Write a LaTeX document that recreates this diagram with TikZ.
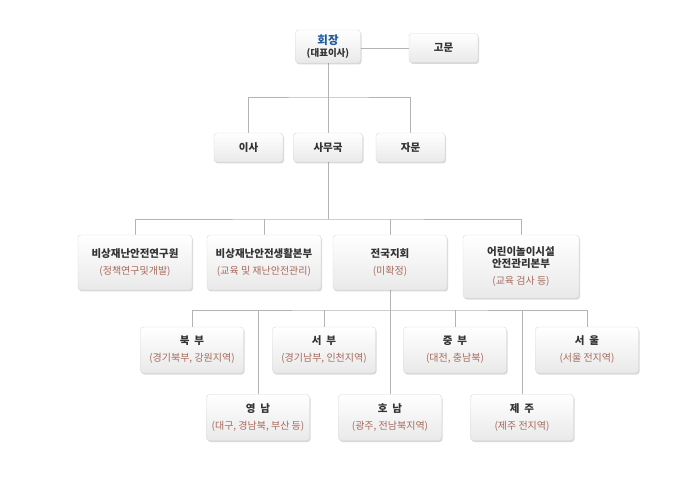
\documentclass[tikz,border=0pt]{standalone}
\usepackage{fontspec}
\setmainfont{Noto Sans CJK KR}
\usetikzlibrary{shadows, backgrounds}
\definecolor{linegray}{HTML}{B4B4B4}
\definecolor{boxline}{HTML}{D8D8D8}
\definecolor{boxbottom}{HTML}{E9E9E9}
\definecolor{titlegray}{HTML}{333333}
\definecolor{subred}{HTML}{A66A5C}
\definecolor{chairblue}{HTML}{1F5C9E}
\tikzstyle{box} = [rectangle, rounded corners=3pt, draw=boxline, top color=white, bottom color=boxbottom, drop shadow={shadow xshift=1pt, shadow yshift=-1.5pt, fill=black, opacity=0.15}, align=center, text=titlegray, font=\bfseries\fontsize{10.5}{12}\selectfont, inner sep=0pt]
\tikzstyle{small} = [box, minimum width=69pt, minimum height=29pt]
\tikzstyle{dept} = [box, minimum width=114pt, minimum height=55pt]
\tikzstyle{branch} = [box, minimum width=103pt, minimum height=46pt]
\tikzstyle{link} = [draw=linegray, line width=0.8pt]
\newcommand{\detail}[1]{\\[5pt]{\color{subred}\mdseries\fontsize{10}{11}\selectfont #1}}

\begin{document}
\begin{tikzpicture}[x=1pt, y=-1pt]
    \useasboundingbox (0,0) rectangle (675,497);
    % top
    \node (hoejang) [box, minimum width=65pt, minimum height=33pt] at (328,46.5) {{\color{chairblue}\fontsize{11.5}{12}\selectfont 회장}\\{\fontsize{9.5}{10}\selectfont (대표이사)}};
    \node (gomun) [small] at (443.5,48) {고문};
    \node (isa) [small] at (248.5,147.5) {이사};
    \node (samu) [small] at (328,147.5) {사무국};
    \node (jamun) [small] at (410.5,147.5) {자문};
    % departments
    \node (yeonguwon) [dept] at (135,262.5) {비상재난안전연구원\detail{(정책연구및개발)}};
    \node (saenghwal) [dept] at (264,262.5) {비상재난안전생활본부\detail{(교육 및 재난안전관리)}};
    \node (jiho) [dept] at (390,262.5) {전국지회\detail{(미확정)}};
    \node (eorini) [dept, minimum width=116pt, minimum height=63pt] at (521,266.5) {어린이놀이시설\\안전관리본부\detail{(교육 검사 등)}};
    % branches
    \node (bukbu) [branch] at (192,350) {북\ \ 부\detail{(경기북부, 강원지역)}};
    \node (seobu) [branch] at (324,350) {서\ \ 부\detail{(경기남부, 인천지역)}};
    \node (jungbu) [branch] at (455,350) {중\ \ 부\detail{(대전, 충남북)}};
    \node (seoul) [branch] at (587,350) {서\ \ 울\detail{(서울 전지역)}};
    \node (yeongnam) [branch] at (258,417.5) {영\ \ 남\detail{(대구, 경남북, 부산 등)}};
    \node (honam) [branch] at (390,417.5) {호\ \ 남\detail{(광주, 전남북지역)}};
    \node (jeju) [branch] at (522,417.5) {제\ \ 주\detail{(제주 전지역)}};
    % lines
    \begin{scope}[on background layer]
        \coordinate (bus1) at (328,97);
        \coordinate (bus2) at (328,219);
        \coordinate (bus3) at (390,310);
        \draw[link] (hoejang.east |- gomun.west) -- (gomun.west);
        \draw[link] (hoejang) -- (samu);
        \draw[link] (isa.north) |- (bus1) -| (jamun.north);
        \draw[link] (samu) -- (bus2);
        \draw[link] (yeonguwon.north) |- (bus2) -| (eorini.north);
        \draw[link] (saenghwal.north) -- (saenghwal.north |- bus2);
        \draw[link] (jiho.north) -- (jiho.north |- bus2);
        \draw[link] (jiho) -- (honam);
        \draw[link] (bukbu.north) |- (bus3) -| (seoul.north);
        \foreach \n in {seobu, jungbu, yeongnam, jeju}
            \draw[link] (\n.north) -- (\n.north |- bus3);
    \end{scope}
\end{tikzpicture}
\end{document}
